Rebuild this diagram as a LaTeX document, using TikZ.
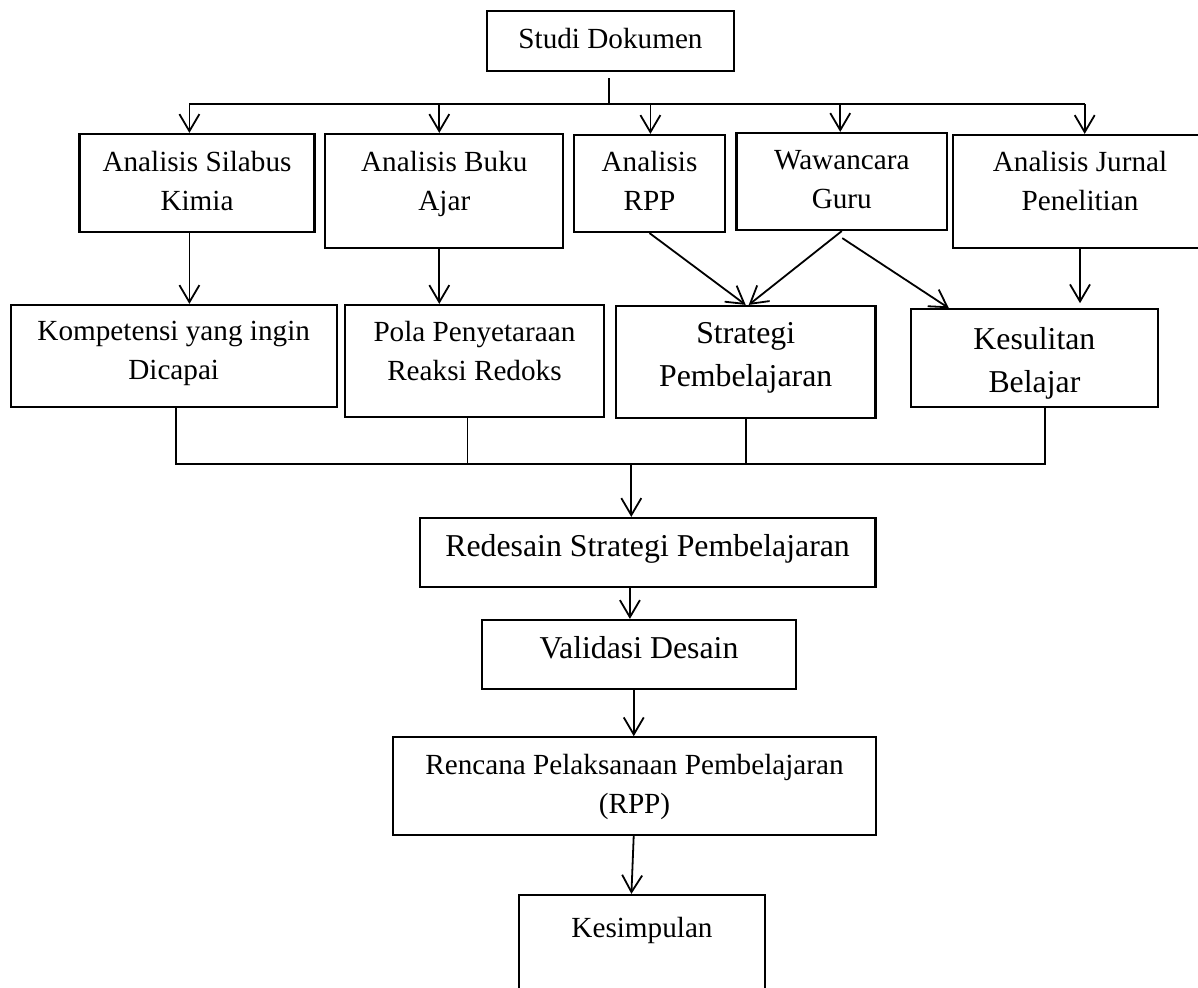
\documentclass[tikz,border=0pt]{standalone}
\usepackage{fontspec}
\setmainfont{Liberation Serif}
\usetikzlibrary{arrows.meta, positioning, calc}

\newcommand{\fsmall}{\fontsize{29.2}{39}\selectfont}
\newcommand{\fbig}{\fontsize{31.8}{43}\selectfont}

\begin{document}
\begin{tikzpicture}[
  x=1pt, y=-1pt,
  box/.style={rectangle, draw=black, line width=2.2pt, inner sep=0pt},
  txt/.style={anchor=north, inner sep=0pt, align=center, font=\fsmall},
  bigtxt/.style={txt, font=\fbig},
  link/.style={draw=black, line width=1.8pt},
  arrow/.style={link, -{Straight Barb[length=17pt, width=20pt]}}
]
  \useasboundingbox (0,0) rectangle (1198,987);

  % Source
  \node[box, minimum width=247, minimum height=60, label={[txt, yshift=-18pt]north:Studi Dokumen}] (stud) at (610.5,41) {};

  % Analyses
  \node[box, minimum width=235, minimum height=98, label={[txt, yshift=-17.7pt]north:Analisis Silabus\\Kimia}] (sil) at (197,183) {};
  \node[box, minimum width=238, minimum height=114, label={[txt, yshift=-17.7pt]north:Analisis Buku\\Ajar}] (buku) at (444.3,191) {};
  \node[box, minimum width=151, minimum height=97, label={[txt, yshift=-17pt]north:Analisis\\RPP}] (rpp) at (649.5,183.5) {};
  \node[box, minimum width=210.5, minimum height=97, label={[txt, yshift=-18pt]north:Wawancara\\Guru}] (waw) at (841.75,181.5) {};
  \node[box, minimum width=254, minimum height=113, label={[txt, yshift=-17pt]north:Analisis Jurnal\\Penelitian}] (jur) at (1080,191.5) {};

  % Findings
  \node[box, minimum width=326, minimum height=102.3, label={[txt, yshift=-17.3pt]north:Kompetensi yang ingin\\Dicapai}] (komp) at (173.7,356.15) {};
  \node[box, minimum width=258.5, minimum height=112.3, label={[txt, yshift=-17pt]north:Pola Penyetaraan\\Reaksi Redoks}] (pola) at (474.45,361.15) {};
  \node[box, minimum width=259.4, minimum height=112, label={[bigtxt, yshift=-17.3pt]north:Strategi\\Pembelajaran}] (strat) at (745.7,362) {};
  \node[box, minimum width=246.8, minimum height=98, label={[bigtxt, yshift=-19pt]north:Kesulitan\\Belajar}] (kes) at (1034.4,358.3) {};

  % Design steps
  \node[box, minimum width=455.6, minimum height=69, label={[bigtxt, yshift=-17pt]north:Redesain Strategi Pembelajaran}] (red) at (647.6,552.5) {};
  \node[box, minimum width=314.5, minimum height=69.3, label={[bigtxt, yshift=-17.6pt]north:Validasi Desain}] (val) at (639.05,654.65) {};
  \node[box, minimum width=483, minimum height=97.7, label={[txt, yshift=-17.7pt]north:Rencana Pelaksanaan Pembelajaran\\(RPP)}] (renc) at (634.5,786.15) {};
  \node[box, minimum width=246, minimum height=100, label={[txt, yshift=-23.3pt]north:Kesimpulan}] (kesim) at (642,945) {};

  \coordinate (bus) at (609,104);
  \coordinate (join) at (631.3,464);

  % Top split
  \draw[link] ($(stud.south)+(-1.5,6)$) -- (bus);
  \draw[link] ([xshift=-7.6pt]sil.north |- bus) -- ([xshift=4.7pt]jur.north |- bus);
  \draw[arrow] ([xshift=-7.6pt]sil.north |- bus) -- ([xshift=-7.6pt]sil.north);
  \draw[arrow] ([xshift=-5pt]buku.north |- bus) -- ([xshift=-5pt]buku.north);
  \draw[arrow] ([xshift=0.9pt]rpp.north |- bus) -- ([xshift=0.9pt]rpp.north);
  \draw[arrow] ([xshift=-1.5pt]waw.north |- bus) -- ([xshift=-1.5pt]waw.north);
  \draw[arrow] ([xshift=4.7pt]jur.north |- bus) -- ([xshift=4.7pt]jur.north);

  % Analyses to findings
  \draw[arrow] ([xshift=-7.6pt]sil.south) -- ([xshift=-7.6pt]sil.south |- komp.north);
  \draw[arrow] ([xshift=-5pt]buku.south) -- ([xshift=-5pt]buku.south |- pola.north);
  \draw[arrow] (rpp.south) -- (strat.north);
  \draw[arrow] (waw.south) -- ([xshift=3pt]strat.north);
  \draw[arrow] ($(waw.south)+(0.5,7)$) -- ([xshift=39pt]kes.north west);
  \draw[arrow] (jur.south) -- ([yshift=5pt]jur.south |- kes.north);

  % Join
  \draw[link] ([xshift=2.3pt]komp.south) |- (join) -| ([xshift=10.6pt]kes.south);
  \draw[link] ([xshift=-6.9pt]pola.south) -- ([xshift=-6.9pt]pola.south |- join);
  \draw[link] (strat.south) -- (strat.south |- join);
  \draw[arrow] (join) -- (join |- red.north);

  % Chain
  \draw[arrow] ([xshift=-17.7pt]red.south) -- ([xshift=-17.7pt]red.south |- val.north);
  \draw[arrow] ([xshift=-5.3pt]val.south) -- ([xshift=-5.3pt]val.south |- renc.north);
  \draw[arrow] ([xshift=-0.8pt]renc.south) -- ([xshift=-10.6pt]kesim.north);
\end{tikzpicture}
\end{document}
